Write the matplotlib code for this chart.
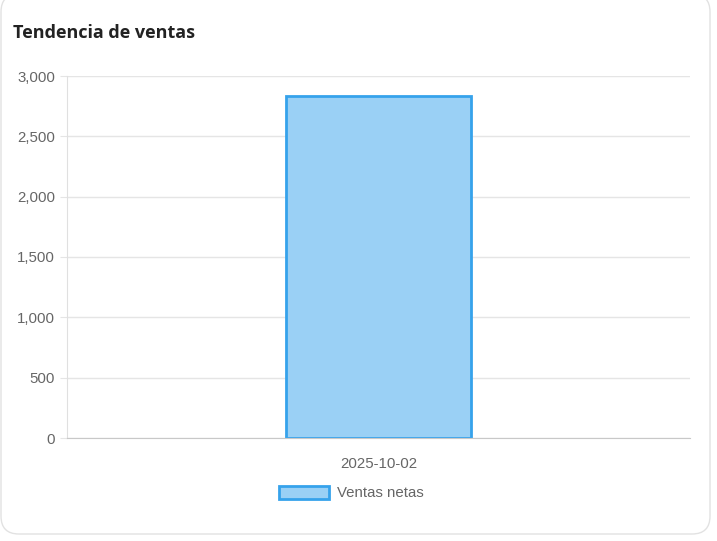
import matplotlib.pyplot as plt
from matplotlib.patches import FancyBboxPatch, Patch

fechas = ["2025-10-02"]
ventas_netas = [2835]
y_ticks = [0, 500, 1000, 1500, 2000, 2500, 3000]

W, H = 717, 541
fig = plt.figure(figsize=(W / 100, H / 100), dpi=100)
fig.patch.set_facecolor("white")

# card background with rounded corners
card = FancyBboxPatch((1 / W, 1 - 534 / H), 709 / W, 540 / H,
                      boxstyle="round,pad=0,rounding_size=0.025",
                      transform=fig.transFigure, facecolor="white",
                      edgecolor="#e2e2e2", linewidth=1, mutation_aspect=W / H,
                      zorder=-10)
fig.patches.append(card)

fig.text(13 / W, 1 - 33 / H, "Tendencia de ventas", fontsize=13, fontweight="bold",
         family="Open Sans", color="#222222", va="center", ha="left")

ax = fig.add_axes([67 / W, 1 - 438 / H, 623 / W, 362 / H])
ax.set_facecolor("none")
ax.bar(range(len(fechas)), ventas_netas, width=0.297, color="#9ad0f5",
       edgecolor="#36a2eb", linewidth=2, label="Ventas netas", zorder=2)

ax.set_xlim(-0.5, 0.5)
ax.set_ylim(0, 3000)
ax.set_yticks(y_ticks)
ax.set_yticklabels([f"{v:,}" for v in y_ticks])
ax.set_xticks(range(len(fechas)))
ax.set_xticklabels(fechas)

ax.grid(axis="y", color="#e5e5e5", linewidth=1, zorder=0)
for s in ["top", "right"]:
    ax.spines[s].set_visible(False)
ax.spines["left"].set_color("#e0e0e0")
ax.spines["bottom"].set_color("#c8c8c8")
ax.tick_params(axis="y", length=5, color="#e5e5e5", labelcolor="#666666", pad=3.5)
ax.tick_params(axis="x", length=0, labelcolor="#666666", pad=14)
for lbl in ax.get_xticklabels() + ax.get_yticklabels():
    lbl.set_family("Liberation Sans")
    lbl.set_fontsize(10.8)

handle = Patch(facecolor="#9ad0f5", edgecolor="#36a2eb", linewidth=2)
fig.legend([handle], ["Ventas netas"], loc="center", bbox_to_anchor=(351.5 / W, 1 - 493 / H),
           frameon=False, handlelength=3.3, handleheight=1.0, handletextpad=0.55,
           prop={"family": "Liberation Sans", "size": 10.8}, labelcolor="#666666")

fig.savefig("out.png", dpi=100, facecolor="white")
